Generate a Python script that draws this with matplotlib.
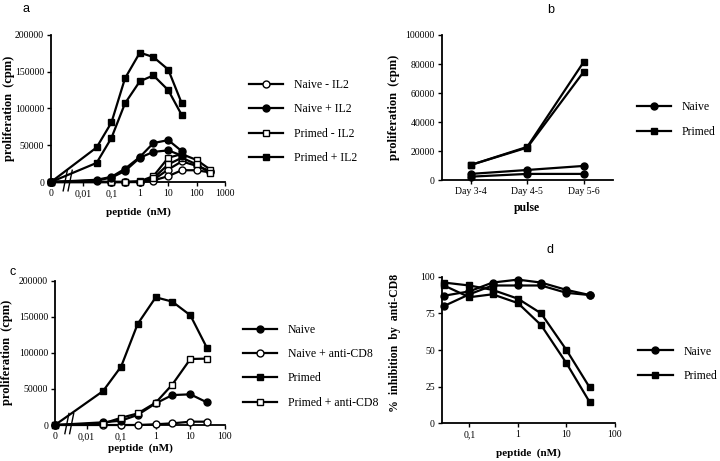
import numpy as np
import matplotlib
matplotlib.use('Agg')
import matplotlib.pyplot as plt
from matplotlib.lines import Line2D

plt.rcParams['font.family'] = ['Liberation Serif', 'DejaVu Serif']

# ---- panel a : proliferation vs peptide, +/- IL2 ----
a_conc_hi = [0, 0.03, 0.1, 0.3, 1, 3, 10, 30]
a_conc_lo = [0, 0.1, 0.3, 1, 3, 10, 30, 100, 300]
a_primed_il2_1 = [0, 47000, 81000, 141000, 176000, 170000, 153000, 107000]
a_primed_il2_2 = [0, 26000, 60000, 107000, 137000, 145000, 125000, 91000]
a_naive_il2_1 = [0, 3000, 7000, 18000, 34000, 53000, 57000, 42000]
a_naive_il2_2 = [0, 2000, 6000, 15000, 33000, 41000, 43000, 36000]
a_primed_1 = [0, 0, 0, 1000, 8000, 33000, 38000, 30000, 17000]
a_primed_2 = [0, 0, 0, 500, 5000, 24000, 33000, 24000, 12000]
a_naive_1 = [0, 0, 0, 0, 3000, 17000, 28000, 22000, 15000]
a_naive_2 = [0, 0, 0, 0, 2000, 8000, 16000, 16000, 13000]
a_xticklabels = ['0', '0,01', '0,1', '1', '10', '100', '1000']
a_yticks = [0, 50000, 100000, 150000, 200000]

# ---- panel b : pulse day ----
b_days = ['Day 3-4', 'Day 4-5', 'Day 5-6']
b_primed_1 = [10500, 23000, 81600]
b_primed_2 = [10500, 22500, 74800]
b_naive_1 = [4400, 7100, 9900]
b_naive_2 = [2500, 4400, 4400]
b_yticks = [0, 20000, 40000, 60000, 80000, 100000]

# ---- panel c : +/- anti-CD8 ----
c_conc = [0, 0.03, 0.1, 0.3, 1, 3, 10, 30]
c_naive = [0, 3700, 6000, 14000, 30000, 41500, 42500, 31400]
c_naive_cd8 = [0, 0, 0, 0, 1000, 2300, 4600, 4600]
c_primed = [0, 47000, 81000, 140000, 177000, 171000, 152000, 107000]
c_primed_cd8 = [0, 2000, 10000, 16000, 31000, 56000, 91500, 92000]
c_xticklabels = ['0', '0,01', '0,1', '1', '10', '100']

# ---- panel d : % inhibition ----
d_conc = [0.03, 0.1, 0.3, 1, 3, 10, 30]
d_naive_1 = [87, 90, 96, 98, 96, 91, 87.5]
d_naive_2 = [80, 88, 94, 94, 94, 89, 87.5]
d_primed_1 = [96, 94, 91, 85, 75, 50, 24.5]
d_primed_2 = [94, 86, 88, 82, 67, 41, 14.5]
d_yticks = [0, 25, 50, 75, 100]

fig = plt.figure(figsize=(7.2, 4.61), dpi=100)
W, H = 720, 461


def px_axes(l, t, r, b):
    return fig.add_axes([l / W, 1 - b / H, (r - l) / W, (b - t) / H])


def style(ax):
    for s in ['top', 'right']:
        ax.spines[s].set_visible(False)
    for s in ['left', 'bottom']:
        ax.spines[s].set_linewidth(1.3)
    ax.tick_params(direction='out', length=3, width=1, labelsize=7, pad=2)
    ax.minorticks_off()


def line(ax, x, y, marker, filled):
    ax.plot(x, y, color='k', lw=1.6, marker=marker, ms=5,
            mfc='k' if filled else 'white', mec='k', mew=1, clip_on=False, zorder=3)


def handle(marker, filled):
    return Line2D([], [], color='k', lw=1.6, marker=marker, ms=5,
                  mfc='k' if filled else 'white', mec='k', mew=1)


def breakmarks(ax, xs):
    for xb in xs:
        ax.plot([xb - 0.012, xb + 0.012], [-0.06, 0.08], color='k', lw=1,
                transform=ax.transAxes, clip_on=False, zorder=4)


def leg(handles, labels, x, y):
    fig.legend(handles, labels, loc='center left', bbox_to_anchor=(x / W, 1 - y / H),
               frameon=False, fontsize=8.5, handlelength=2.9, handletextpad=0.9,
               labelspacing=1.05, borderpad=0, borderaxespad=0)


# panel a
ax = px_axes(51, 35, 225, 182)
x0a = 10 ** -3.13
xa_hi = np.where(np.array(a_conc_hi) == 0, x0a, a_conc_hi)
xa_lo = np.where(np.array(a_conc_lo) == 0, x0a, a_conc_lo)
ax.set_xscale('log')
line(ax, xa_lo, a_naive_1, 'o', False)
line(ax, xa_lo, a_naive_2, 'o', False)
line(ax, xa_lo, a_primed_1, 's', False)
line(ax, xa_lo, a_primed_2, 's', False)
line(ax, xa_hi, a_naive_il2_1, 'o', True)
line(ax, xa_hi, a_naive_il2_2, 'o', True)
line(ax, xa_hi, a_primed_il2_1, 's', True)
line(ax, xa_hi, a_primed_il2_2, 's', True)
ax.set_xlim(x0a, 1000)
ax.set_ylim(0, 200000)
ax.set_xticks([x0a, 0.01, 0.1, 1, 10, 100, 1000])
ax.set_xticklabels(a_xticklabels)
ax.set_yticks(a_yticks)
ax.set_yticklabels([str(v) for v in a_yticks])
style(ax)
breakmarks(ax, [0.082, 0.11])
ax.set_ylabel('proliferation  (cpm)', fontsize=9, fontweight='bold')
ax.yaxis.set_label_coords(-0.207, 0.5)
ax.set_xlabel('peptide  (nM)', fontsize=8, fontweight='bold')
ax.xaxis.set_label_coords(0.5, -0.17)
leg([handle('o', False), handle('o', True), handle('s', False), handle('s', True)],
    ['Naive - IL2', 'Naive + IL2', 'Primed - IL2', 'Primed + IL2'], 249, 121.5)

# panel b
ax = px_axes(441.7, 35, 612.7, 180.3)
xb = np.arange(len(b_days))
line(ax, xb, b_naive_1, 'o', True)
line(ax, xb, b_naive_2, 'o', True)
line(ax, xb, b_primed_1, 's', True)
line(ax, xb, b_primed_2, 's', True)
ax.set_xlim(-0.51, 2.51)
ax.set_ylim(0, 100000)
ax.set_xticks(xb)
ax.set_xticklabels(b_days)
ax.set_yticks(b_yticks)
ax.set_yticklabels([str(v) for v in b_yticks])
style(ax)
ax.set_ylabel('proliferation  (cpm)', fontsize=9, fontweight='bold')
ax.yaxis.set_label_coords(-0.244, 0.5)
ax.set_xlabel('pulse', fontsize=8.5, fontweight='bold')
ax.xaxis.set_label_coords(0.5, -0.15)
leg([handle('o', True), handle('s', True)], ['Naive', 'Primed'], 636.7, 119.5)

# panel c
ax = px_axes(55, 280.7, 225, 425)
x0c = 10 ** -2.91
xc = np.where(np.array(c_conc) == 0, x0c, c_conc)
ax.set_xscale('log')
line(ax, xc, c_naive_cd8, 'o', False)
line(ax, xc, c_naive, 'o', True)
line(ax, xc, c_primed_cd8, 's', False)
line(ax, xc, c_primed, 's', True)
ax.set_xlim(x0c, 100)
ax.set_ylim(0, 200000)
ax.set_xticks([x0c, 0.01, 0.1, 1, 10, 100])
ax.set_xticklabels(c_xticklabels)
ax.set_yticks(a_yticks)
ax.set_yticklabels([str(v) for v in a_yticks])
style(ax)
breakmarks(ax, [0.07, 0.098])
ax.set_ylabel('proliferation  (cpm)', fontsize=9, fontweight='bold')
ax.yaxis.set_label_coords(-0.247, 0.5)
ax.set_xlabel('peptide  (nM)', fontsize=8, fontweight='bold')
ax.xaxis.set_label_coords(0.5, -0.13)
leg([handle('o', True), handle('o', False), handle('s', True), handle('s', False)],
    ['Naive', 'Naive + anti-CD8', 'Primed', 'Primed + anti-CD8'], 243, 366.3)

# panel d
ax = px_axes(441.7, 276.7, 615, 423.3)
ax.set_xscale('log')
line(ax, d_conc, d_naive_1, 'o', True)
line(ax, d_conc, d_naive_2, 'o', True)
line(ax, d_conc, d_primed_1, 's', True)
line(ax, d_conc, d_primed_2, 's', True)
ax.set_xlim(10 ** -1.57, 100)
ax.set_ylim(0, 100)
ax.set_xticks([0.1, 1, 10, 100])
ax.set_xticklabels(['0,1', '1', '10', '100'])
ax.set_yticks(d_yticks)
ax.set_yticklabels([str(v) for v in d_yticks])
style(ax)
ax.set_ylabel('%  inhibition  by  anti-CD8', fontsize=8.5, fontweight='bold')
ax.yaxis.set_label_coords(-0.235, 0.551)
ax.set_xlabel('peptide  (nM)', fontsize=8, fontweight='bold')
ax.xaxis.set_label_coords(0.5, -0.17)
leg([handle('o', True), handle('s', True)], ['Naive', 'Primed'], 638.3, 363.7)

# panel letters
for lab, xp, yp in [('a', 26, 9), ('b', 551, 10), ('c', 13, 272), ('d', 550, 250)]:
    fig.text(xp / W, 1 - yp / H, lab, fontsize=9, family='Liberation Sans',
             ha='center', va='center')

fig.savefig('out.png', dpi=100)
